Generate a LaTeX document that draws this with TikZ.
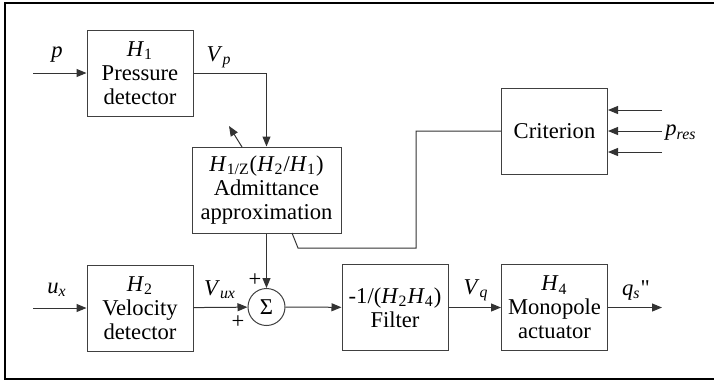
\documentclass[tikz,border=0pt]{standalone}
\usepackage{fontspec}
\setmainfont{Liberation Serif}
\usetikzlibrary{positioning}
\usetikzlibrary{arrows.meta}
\newcommand{\vsub}[2]{\textit{#1}\textsubscript{#2}}
\tikzset{block/.style={draw=black!75, line width=0.5pt, fill=white, minimum width=53pt, minimum height=43pt, align=center, inner sep=1pt, font=\fontsize{11.3}{12}\selectfont}}
\tikzset{sig/.style={line width=0.5pt, draw=black!80, -{Triangle[length=5pt,width=4pt]}}}
\tikzset{wire/.style={line width=0.5pt, draw=black!80}}
\tikzset{lbl/.style={font=\fontsize{11.3}{12}\selectfont, inner sep=0pt}}

\begin{document}
\begin{tikzpicture}[x=0.5pt,y=-0.5pt]
\useasboundingbox (0,0) rectangle (714,382);
\draw[line width=1.3pt] (714,3) -- (5,3) -- (5,379) -- (714,379);
% blocks
\node[block] (pd) at (140,73) {\vsub{H}{1}\\Pressure\\detector};
\node[block] (vd) at (140,308) {\vsub{H}{2}\\Velocity\\detector};
\node[block, minimum width=74.5pt] (adm) at (266.5,190) {\vsub{H}{1/Z}(\vsub{H}{2}/\vsub{H}{1})\\Admittance\\approximation};
\node[block, circle, minimum size=18.5pt, inner sep=0pt] (sum) at (266.5,307) {Σ};
\node[block] (flt) at (395,307.5) {-1/(\vsub{H}{2}\vsub{H}{4})\\Filter};
\node[block] (act) at (554.5,307.5) {\vsub{H}{4}\\Monopole\\actuator};
\node[block] (crit) at (554.5,131) {Criterion};
% free ends
\coordinate (pin) at (33,73);
\coordinate (uin) at (33,308);
\coordinate (qout) at (662,307.5);
\coordinate (r1) at (662,110);
\coordinate (r2) at (662,131);
\coordinate (r3) at (662,152);
\coordinate (tune) at (292,233);
\coordinate (knob0) at (242,147);
\coordinate (knob1) at (229,126);
% signals
\draw[sig] (pin) -- (pd);
\draw[sig] (pd.east) -| (adm.north -| sum.north);
\draw[sig] (uin) -- (vd);
\draw[sig] (vd) -- (sum);
\draw[sig] (adm.south -| sum.north) -- (sum);
\draw[sig] (sum) -- (flt);
\draw[sig] (flt) -- (act);
\draw[sig] (act) -- (qout);
\draw[sig] (r1) -- (r1 -| crit.east);
\draw[sig] (r2) -- (crit);
\draw[sig] (r3) -- (r3 -| crit.east);
\draw[wire] (crit.west) -- (416,131) -- (416,248) -- (298,248) -- (tune);
\draw[sig] (knob0) -- (knob1);
% labels
\node[lbl] (lp) at (57,55) {\textit{p}};
\node[lbl] (lvp) at (219,57) {\vsub{V}{\textit{p}}};
\node[lbl] (lu) at (57,290) {\vsub{u}{\textit{x}}};
\node[lbl] (lvu) at (220,290) {\vsub{V}{\textit{ux}}};
\node[lbl] (lvq) at (476,290) {\vsub{V}{\textit{q}}};
\node[lbl] (lq) at (636,290) {\vsub{q}{\textit{s}}\textquotedbl};
\node[lbl, anchor=west] (lres) at (665,133) {\vsub{p}{\textit{res}}};
\node[lbl] (pl1) at (255,280) {+};
\node[lbl] (pl2) at (238,322) {+};
\end{tikzpicture}
\end{document}
